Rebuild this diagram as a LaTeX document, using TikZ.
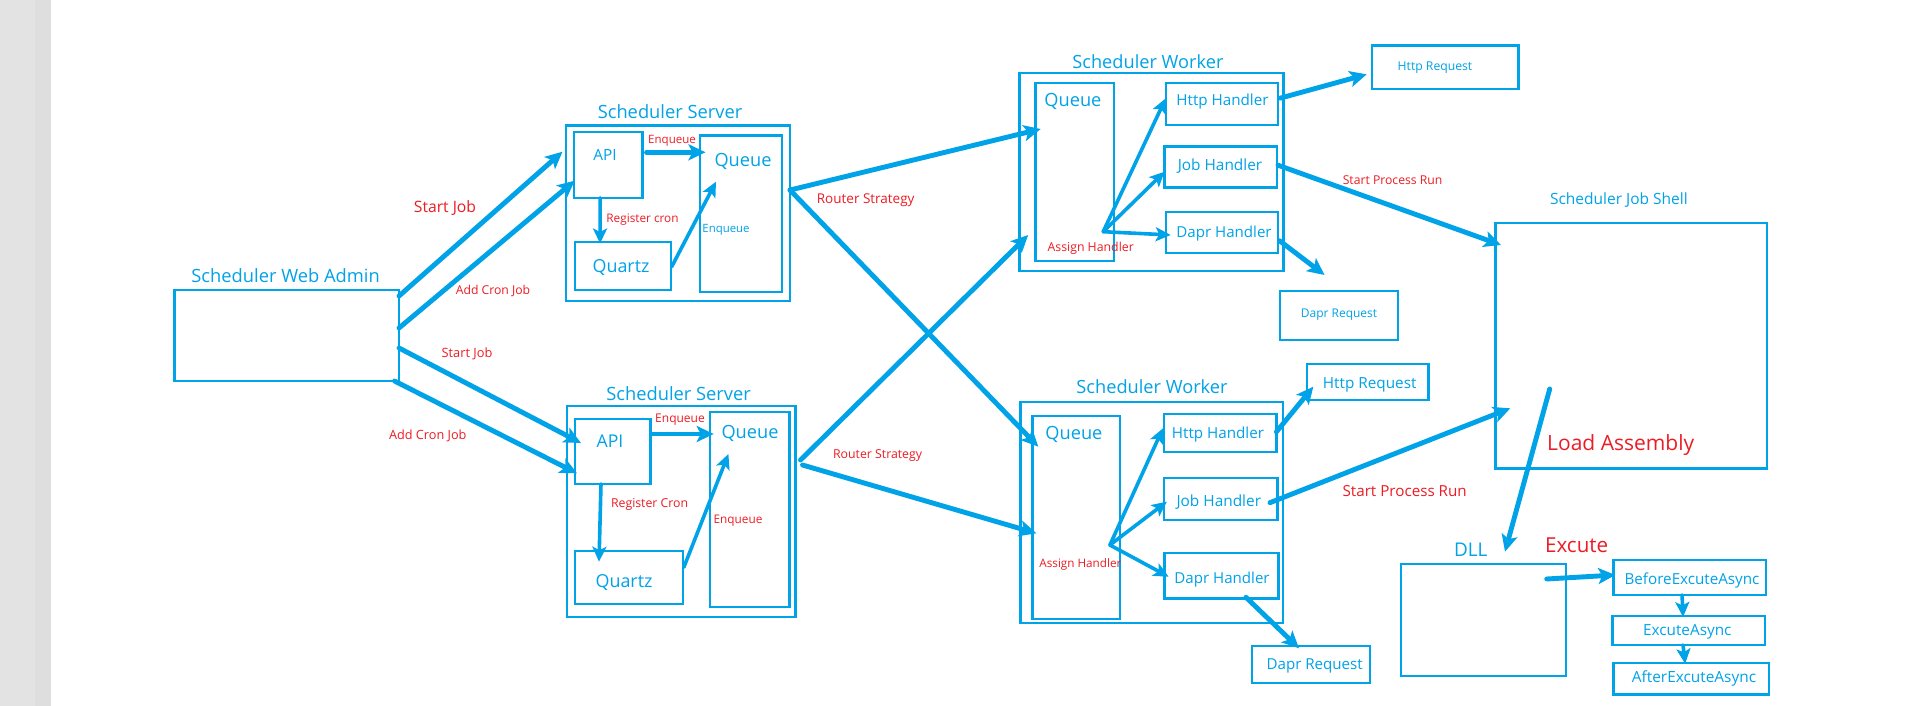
\documentclass[tikz,border=0pt]{standalone}
\usepackage{fontspec}
\setmainfont{Open Sans}
\usetikzlibrary{arrows.meta,fit}
\definecolor{skyblue}{HTML}{00A2E8}
\definecolor{alertred}{HTML}{ED1C24}
\definecolor{paneA}{HTML}{E3E3E3}
\definecolor{paneB}{HTML}{DEDEDE}
\newcommand\fsz[1]{\fontsize{#1}{#1}\selectfont}
\tikzset{
  box/.style={draw=skyblue, line width=2.4pt, inner sep=0pt, outer sep=0pt},
  txt/.style={text=skyblue, inner sep=0pt, yshift=-1.5pt, font=\fsz{#1}},
  note/.style={text=alertred, inner sep=0pt, yshift=-1.5pt, font=\fsz{#1}},
  flow/.style={draw=skyblue, line width=4.9pt, line cap=round,
    -{Stealth[length=17pt,width=16pt,inset=4pt]}},
  slim/.style={draw=skyblue, line width=3.6pt, line cap=round,
    -{Stealth[length=15pt,width=14pt,inset=3.5pt]}},
}
\begin{document}
\begin{tikzpicture}[x=1pt,y=-1pt]
\useasboundingbox (0,0) rectangle (1907,706);
\fill[white] (0,0) rectangle (1907,706);
\fill[paneA] (0,0) rectangle (35,706);
\fill[paneB] (35,0) rectangle (51,706);

% ---------- boxes ----------
\node[box, fit={(174.5,290) (399,381)}] (admin) {};
% scheduler server 1
\node[box, fit={(566,125.7) (790,301)}] (s1) {};
\node[box, fit={(573.7,132.3) (642.5,197.7)}] (s1api) {};
\node[box, fit={(700.2,135.7) (781.8,291.7)}] (s1queue) {};
\node[box, fit={(575,242) (670.7,290)}] (s1quartz) {};
% scheduler server 2
\node[box, fit={(567,406) (795.5,617)}] (s2) {};
\node[box, fit={(575,419) (650.4,484)}] (s2api) {};
\node[box, fit={(709.7,411.7) (789.6,606.7)}] (s2queue) {};
\node[box, fit={(575,550.7) (682.8,604)}] (s2quartz) {};
% scheduler worker 1
\node[box, fit={(1019.3,73.3) (1283.6,270.7)}] (w1) {};
\node[box, fit={(1035.4,83.3) (1113.9,260.7)}] (w1queue) {};
\node[box, fit={(1165.7,83.3) (1278.2,125)}] (w1http) {};
\node[box, fit={(1164.6,146.7) (1277,187.7)}] (w1job) {};
\node[box, fit={(1165.7,211.7) (1278.2,252.7)}] (w1dapr) {};
% scheduler worker 2
\node[box, fit={(1020.3,401.7) (1283.2,623)}] (w2) {};
\node[box, fit={(1032.6,416) (1119.8,619)}] (w2queue) {};
\node[box, fit={(1163.9,414) (1276.4,451.7)}] (w2http) {};
\node[box, fit={(1163.9,477.7) (1277.5,520)}] (w2job) {};
\node[box, fit={(1164.6,552.7) (1278.3,598.3)}] (w2dapr) {};
% requests
\node[box, fit={(1371.7,45.7) (1518.3,89)}] (httpreq1) {};
\node[box, fit={(1280,290.7) (1397.7,340)}] (daprreq1) {};
\node[box, fit={(1306.7,364) (1428.3,400)}] (httpreq2) {};
\node[box, fit={(1251.7,646) (1370,682.7)}] (daprreq2) {};
% job shell and assembly
\node[box, fit={(1495.6,222.7) (1767.2,468.3)}] (shell) {};
\node[box, fit={(1400.7,564) (1565.7,675.7)}] (dll) {};
\node[box, fit={(1613.3,560) (1766,595)}] (before) {};
\node[box, fit={(1612.3,616) (1765,645)}] (excasync) {};
\node[box, fit={(1613.3,662.7) (1769,694.3)}] (after) {};

\coordinate (a1) at (1103.2,231.7);
\coordinate (a2) at (1109.9,545);

% ---------- connectors ----------
% web admin to servers
\draw[flow] ([shift={(0,6)}]admin.north east) -- ([shift={(-3.5,26)}]s1.north west);
\draw[flow] ([shift={(0,38)}]admin.north east) -- ([shift={(1,-17)}]s1api.south west);
\draw[flow] ([shift={(0,58)}]admin.north east) -- ([shift={(6,-8.5)}]s2api.west);
\draw[flow] ([shift={(-4.5,0)}]admin.south east) -- ([shift={(2,-10.7)}]s2api.south west);
% inside server 1
\draw[flow] ([shift={(4,-12.7)}]s1api.east) -- ([shift={(5.3,16.6)}]s1queue.north west);
\draw[slim] ([shift={(-8,0)}]s1api.south) -- ([shift={(-22.8,1.5)}]s1quartz.north);
\draw[slim] ([shift={(1,0.7)}]s1quartz.east) -- ([shift={(15.8,46)}]s1queue.north west);
% inside server 2
\draw[flow] ([shift={(2,-17.5)}]s2api.east) -- ([shift={(4,22.3)}]s2queue.north west);
\draw[slim] ([shift={(-11.7,0)}]s2api.south) -- ([shift={(-29.9,11)}]s2quartz.north);
\draw[slim] ([shift={(1,-10)}]s2quartz.east) -- ([shift={(18.7,42.3)}]s2queue.north west);
% router strategy
\draw[flow] ([shift={(0,-23.3)}]s1.east) -- ([shift={(5.3,45.7)}]w1queue.north west);
\draw[flow] ([shift={(0,-23.3)}]s1.east) -- ([shift={(5.7,30.7)}]w2queue.north west);
\draw[flow] ([shift={(5,54)}]s2.north east) -- ([shift={(-7.2,-25.7)}]w1queue.south west);
\draw[flow] ([shift={(7,59)}]s2.north east) -- ([shift={(3.8,117.3)}]w2queue.north west);
% assign handler, worker 1
\draw[slim] (a1) -- ([shift={(0,-5.8)}]w1http.west);
\draw[slim] (a1) -- ([shift={(0,4.5)}]w1job.west);
\draw[slim] (a1) -- ([shift={(5,2.8)}]w1dapr.west);
% assign handler, worker 2
\draw[slim] (a2) -- ([shift={(-1,-4.5)}]w2http.west);
\draw[slim] (a2) -- ([shift={(3,2.8)}]w2job.west);
\draw[slim] (a2) -- ([shift={(4,1.2)}]w2dapr.west);
% handlers to requests and shell
\draw[flow] ([shift={(2,-6)}]w1http.east) -- ([shift={(-5,7)}]httpreq1.west);
\draw[flow] ([shift={(1,-2)}]w1job.east) -- ([shift={(5.4,22.3)}]shell.north west);
\draw[flow] ([shift={(1.3,8.5)}]w1dapr.east) -- ([shift={(44.6,-15.7)}]daprreq1.north west);
\draw[flow] ([shift={(0,-1)}]w2http.east) -- ([shift={(6.6,4.7)}]httpreq2.west);
\draw[flow] ([shift={(-7.5,3.8)}]w2job.east) -- ([shift={(14.7,-60)}]shell.south west);
\draw[flow] ([shift={(24.5,-1)}]w2dapr.south) -- ([shift={(-11.8,2.3)}]daprreq2.north);
% shell, dll and execution chain
\draw[flow] ([shift={(54.1,-79.3)}]shell.south west) -- ([shift={(104.3,-12.3)}]dll.north west);
\draw[flow] ([shift={(-19,15)}]dll.north east) -- ([shift={(2,-2.5)}]before.west);
\draw[slim] ([shift={(-7.6,0)}]before.south) -- ([shift={(-5.6,1)}]excasync.north);
\draw[slim] ([shift={(-5.6,0)}]excasync.south) -- ([shift={(-6,1)}]after.north);

% ---------- blue texts ----------
\node[txt=18.3] (tadmin) at (285.6,274) {Scheduler Web Admin};
\node[txt=18.3] (ts1) at (670,110) {Scheduler Server};
\node[txt=18.3] (ts2) at (678.6,391.7) {Scheduler Server};
\node[txt=18.2] (tw1) at (1147.9,60) {Scheduler Worker};
\node[txt=18.2] (tw2) at (1152,385) {Scheduler Worker};
\node[txt=15.5] (tshell) at (1618.9,198.3) {Scheduler Job Shell};
\node[txt=15.4] (ts1api) at (605,153) {API};
\node[txt=17.6] (ts2api) at (610,440) {API};
\node[txt=18.2] (ts1queue) at (743,160) {Queue};
\node[txt=18.2] (ts2queue) at (750,431.7) {Queue};
\node[txt=18.2] (tw1queue) at (1072.9,100) {Queue};
\node[txt=18.2] (tw2queue) at (1073.9,433.3) {Queue};
\node[txt=17.9] (ts1quartz) at (621,265.7) {Quartz};
\node[txt=17.9] (ts2quartz) at (624,580.7) {Quartz};
\node[txt=15.2] (tw1http) at (1222.5,100) {Http Handler};
\node[txt=15.4] (tw1job) at (1220,164.3) {Job Handler};
\node[txt=15.1] (tw1dapr) at (1224,232.3) {Dapr Handler};
\node[txt=15.2] (tw2http) at (1218,432.7) {Http Handler};
\node[txt=15.4] (tw2job) at (1218.8,500.7) {Job Handler};
\node[txt=15.1] (tw2dapr) at (1222,578) {Dapr Handler};
\node[txt=12.2] (thttpreq1) at (1435,65.7) {Http Request};
\node[txt=12] (tdaprreq1) at (1339,313.3) {Dapr Request};
\node[txt=15.3] (thttpreq2) at (1369.7,383.3) {Http Request};
\node[txt=15.1] (tdaprreq2) at (1314.7,664.7) {Dapr Request};
\node[txt=18.9] (tdll) at (1470.7,548.3) {DLL};
\node[txt=15.2] (tbefore) at (1692,579.3) {BeforeExcuteAsync};
\node[txt=15.3] (texcasync) at (1687.3,630) {ExcuteAsync};
\node[txt=15.4] (tafter) at (1694,676.7) {AfterExcuteAsync};
\node[txt=11.4] (ts1enq2) at (726,228) {Enqueue};

% ---------- red texts ----------
\node[note=11.5] (ts1enq) at (672,139) {Enqueue};
\node[note=11.8] (ts1reg) at (642.5,218) {Register cron};
\node[note=15.7] (tstart1) at (445,206.7) {Start Job};
\node[note=12.2] (tcron1) at (493,289.3) {Add Cron Job};
\node[note=12.8] (tstart2) at (467,352.7) {Start Job};
\node[note=12.7] (tcron2) at (427.8,434.3) {Add Cron Job};
\node[note=12] (ts2enq) at (680,418.3) {Enqueue};
\node[note=12.3] (ts2reg) at (649.6,503.3) {Register Cron};
\node[note=11.8] (ts2enq2) at (738,519.3) {Enqueue};
\node[note=13.5] (troute1) at (865.7,198.3) {Router Strategy};
\node[note=12.3] (troute2) at (877.6,454) {Router Strategy};
\node[note=12.3] (tassign1) at (1090.7,246.7) {Assign Handler};
\node[note=11.7] (tassign2) at (1080.4,563.3) {Assign Handler};
\node[note=12.2] (tproc1) at (1392.6,178.3) {Start Process Run};
\node[note=15.2] (tproc2) at (1404.7,490) {Start Process Run};
\node[note=21] (tload) at (1620.7,443.3) {Load Assembly};
\node[note=20.6] (texec) at (1576.7,543.3) {Excute};
\end{tikzpicture}
\end{document}
